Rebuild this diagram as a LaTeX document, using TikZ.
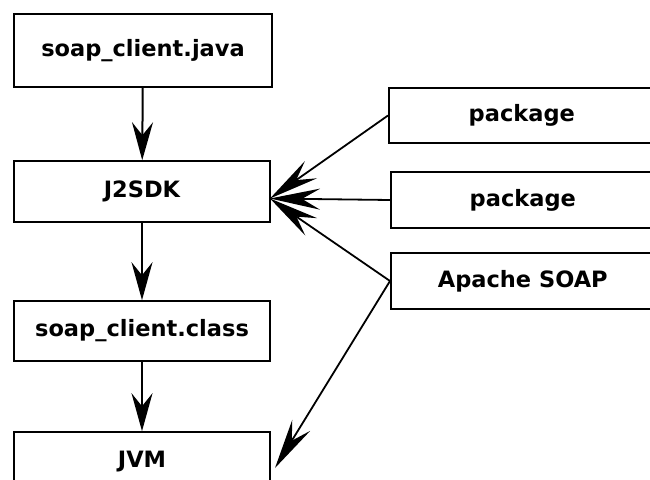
\documentclass[tikz,border=0pt]{standalone}
\usepackage{fontspec}
\setmainfont{DejaVu Sans}
\usetikzlibrary{arrows.meta}
\begin{document}
\begin{tikzpicture}[
    x=1pt, y=-1pt,
    filebox/.style={
       rectangle, draw=black, fill=white, line width=1.6pt,
       inner sep=0pt, minimum height=60pt, minimum width=256pt,
       font=\fontsize{22.5}{26}\selectfont\bfseries
        },
    down/.style={line width=2pt, -{Stealth[length=38pt,width=21pt,inset=13pt]}},
    feed/.style={line width=1.8pt, -{Stealth[length=50pt,width=21pt,inset=18pt]}}
    ]
\useasboundingbox (0,0) rectangle (650,479);

\node[filebox, minimum width=258pt, minimum height=73pt] (java) at (143,50.5) {\raisebox{4pt}{soap\_client.java}};
\node[filebox, minimum height=61pt] (j2sdk) at (142,191.5) {J2SDK};
\node[filebox] (class) at (142,331) {soap\_client.class};
\node[filebox] (jvm) at (142,462) {\raisebox{5pt}{JVM}};

\node[filebox, anchor=west, minimum width=266pt, minimum height=55pt] (pkga) at (388,115.5) {package};
\node[filebox, anchor=west, minimum width=264pt, minimum height=56pt] (pkgb) at (390,200) {package};
\node[filebox, anchor=west, minimum width=264pt, minimum height=56pt] (soap) at (390,281) {Apache SOAP};

\coordinate (hub) at (270,198.5);
\coordinate (jvmin) at (275,468);

\foreach \a/\b in {java/j2sdk, j2sdk/class, class/jvm} {
   \draw [down] (\a) -- (\b);
  }
\foreach \a in {pkga, pkgb, soap} {
   \draw [feed] (\a.west) -- (hub);
 }
\draw [feed] (soap.west) -- (jvmin);
\end{tikzpicture}
\end{document}
